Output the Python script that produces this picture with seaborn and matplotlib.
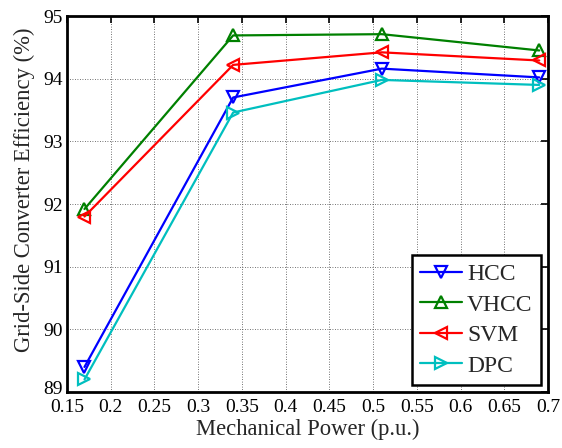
import matplotlib
matplotlib.use("Agg")
import matplotlib.pyplot as plt
import matplotlib.transforms as mtransforms
import seaborn as sns
import pandas as pd

power = [0.17, 0.34, 0.51, 0.69]
hcc = [89.40, 93.70, 94.16, 94.02]
vhcc = [91.92, 94.69, 94.71, 94.45]
svm = [91.80, 94.22, 94.42, 94.29]
dpc = [89.20, 93.46, 93.98, 93.90]
series_names = ["HCC", "VHCC", "SVM", "DPC"]
series_vals = [hcc, vhcc, svm, dpc]
colors = ["#0000ff", "#008000", "#ff0000", "#00bfbf"]
markers = ["v", "^", "<", ">"]
xticks = [0.15, 0.2, 0.25, 0.3, 0.35, 0.4, 0.45, 0.5, 0.55, 0.6, 0.65, 0.7]
yticks = [89, 90, 91, 92, 93, 94, 95]

sns.set_style("white")
plt.rcParams["font.family"] = ["Liberation Serif", "DejaVu Serif"]

fig = plt.figure(figsize=(5.62, 4.48), dpi=100)
ax = fig.add_axes([67 / 562, 1 - 392 / 448, 481 / 562, 376 / 448])

for name, vals, c, m in zip(series_names, series_vals, colors, markers):
    df = pd.DataFrame({"x": power, "y": vals})
    sns.lineplot(data=df, x="x", y="y", ax=ax, color=c, marker=m,
                 markersize=9, markerfacecolor="none", markeredgecolor=c,
                 markeredgewidth=1.6, linewidth=1.6, label=name)

ax.set_xlim(0.15, 0.7)
ax.set_ylim(89, 95)
ax.set_xticks(xticks)
ax.set_xticklabels([f"{t:g}" for t in xticks])
ax.set_yticks(yticks)
ax.set_yticklabels([str(t) for t in yticks])
ax.grid(True, color="#444444", linestyle=(0, (1, 2)), linewidth=0.6)
ax.tick_params(direction="in", length=5, width=1.2, top=True, right=True,
               labelsize=14, colors="black")
ax.tick_params(axis="x", pad=5)
ax.tick_params(axis="y", pad=3)
for s in ax.spines.values():
    s.set_visible(True)
    s.set_color("black")
    s.set_linewidth(2.0)
ax.set_xlabel("Mechanical Power (p.u.)", fontsize=16.3, labelpad=2)
ax.set_ylabel("Grid-Side Converter Efficiency (%)", fontsize=16.3)
ax.yaxis.set_label_coords(-0.066, 0.537)

# nudge the lowest y tick label up slightly so it clears the 0.15 label
lbl = ax.get_yticklabels()[0]
lbl.set_transform(lbl.get_transform() +
                  mtransforms.ScaledTranslation(0, 3 / 72, fig.dpi_scale_trans))

leg = ax.legend(loc="lower right", fontsize=17, frameon=True, fancybox=False,
                edgecolor="black", framealpha=1, borderpad=0.35,
                handlelength=1.8, handletextpad=0.2, labelspacing=0.38,
                borderaxespad=0.3)
leg.get_frame().set_linewidth(1.8)

fig.savefig("out.png", dpi=100)
